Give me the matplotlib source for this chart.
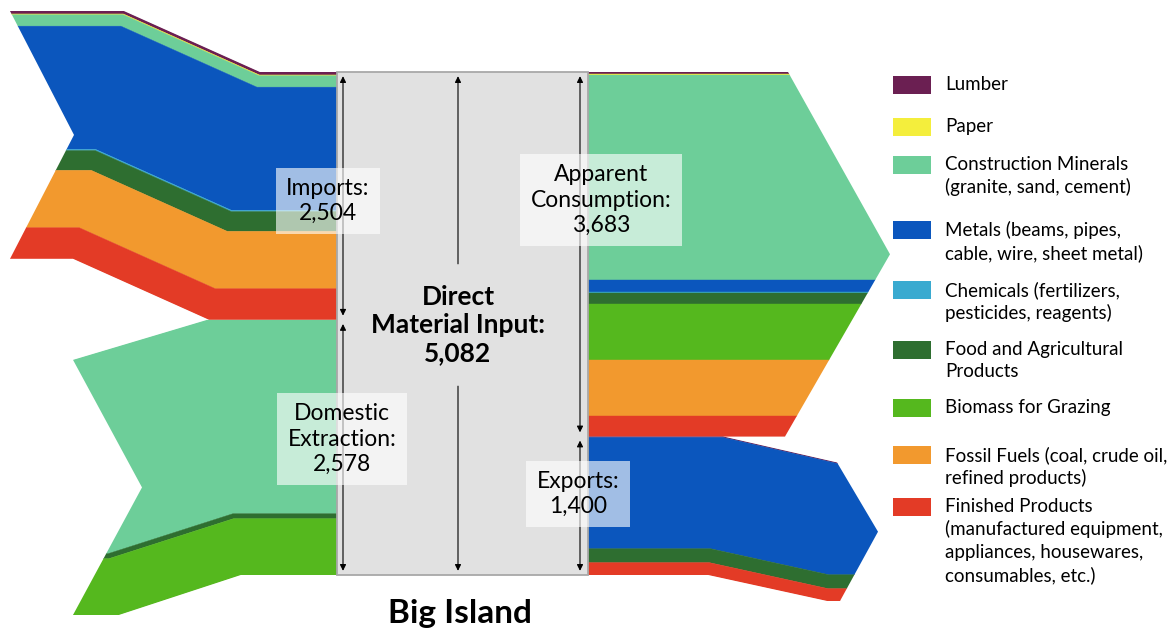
import numpy as np
import matplotlib
matplotlib.use("Agg")
import matplotlib.pyplot as plt
from matplotlib.patches import Polygon, Rectangle

plt.rcParams["font.family"] = ["Lato", "DejaVu Sans"]

# ---- data (thousand tons), layers listed top -> bottom ----
categories = ["Lumber", "Paper", "Construction Minerals", "Metals", "Chemicals",
              "Food and Agricultural Products", "Biomass for Grazing", "Fossil Fuels",
              "Finished Products"]
legend_labels = ["Lumber", "Paper",
                 "Construction Minerals\n(granite, sand, cement)",
                 "Metals (beams, pipes,\ncable, wire, sheet metal)",
                 "Chemicals (fertilizers,\npesticides, reagents)",
                 "Food and Agricultural\nProducts",
                 "Biomass for Grazing",
                 "Fossil Fuels (coal, crude oil,\nrefined products)",
                 "Finished Products\n(manufactured equipment,\nappliances, housewares,\nconsumables, etc.)"]
colors = ["#6b1f52", "#f4ee3c", "#6dce99", "#0b56bd", "#3aaad0",
          "#2e6e30", "#55b81e", "#f2992e", "#e33b26"]

imports     = [30, 8, 115, 1245, 12, 200, 0, 580, 314]
domestic    = [0, 0, 1959, 0, 0, 50, 569, 0, 0]
consumption = [20, 8, 2075, 118, 12, 115, 560, 570, 205]
exports     = [10, 0, 0, 1125, 0, 140, 0, 0, 125]

dmi = sum(imports) + sum(domestic)

# ---- layout (pixel grid of the 1172x634 canvas) ----
W, H = 1172, 634
BOX_L, BOX_R, BOX_T, BOX_B = 337, 588, 72, 575
K = dmi / (BOX_B - BOX_T)          # units per pixel


def Y(px):
    return (BOX_B - px) * K


fig = plt.figure(figsize=(W / 100, H / 100), dpi=100)
ax = fig.add_axes([0, 0, 1, 1])
ax.set_xlim(0, W)
ax.set_ylim(Y(H), Y(0))
ax.axis("off")


def ribbon(values, y_top, side, shift_px, bend_top, bend_bot, cap):
    """Stacked stream leaving/entering the box, with a bend and an end cap."""
    vals = np.asarray(values, float)
    bnd = y_top - np.concatenate([[0], np.cumsum(vals)])
    total = vals.sum()
    shift = shift_px * K
    x_near = BOX_L if side == "left" else BOX_R
    x_ext = 0 if side == "left" else W

    def line(y, x_far):
        f = (y_top - y) / total
        xa = bend_top[0] + (bend_bot[0] - bend_top[0]) * f
        xb = bend_top[1] + (bend_bot[1] - bend_top[1]) * f
        if side == "left":
            return [(x_far, y + shift), (xa, y + shift), (xb, y), (x_near, y)]
        return [(x_near, y), (xa, y), (xb, y + shift), (x_far, y + shift)]

    mid = (bnd[0] + bnd[-1]) / 2 + shift
    top, bot = line(bnd[0], cap[0]), line(bnd[-1], cap[2])
    if side == "left":
        outline = top + bot[::-1] + [(cap[1], mid)]
    else:
        outline = top + [(cap[1], mid)] + bot[::-1]
    clip = Polygon(outline, closed=True, fc="none", ec="none")
    ax.add_patch(clip)
    for i, c in enumerate(colors):
        if vals[i] <= 0:
            continue
        up, lo = line(bnd[i], x_ext), line(bnd[i + 1], x_ext)
        p = Polygon(up + lo[::-1], closed=True, fc=c, ec=c, lw=0.3, zorder=1)
        ax.add_patch(p)
        p.set_clip_path(clip)


ribbon(imports, dmi, "left", 61, (124, 260), (73, 209), (10, 74, 10))
ribbon(domestic, sum(domestic), "left", -40, (73, 207), (119, 241), (73, 142, 73))
ribbon(consumption, dmi, "right", 0, (700, 780), (700, 780), (788, 890, 785))
ribbon(exports, sum(exports), "right", -26, (723, 837), (708, 827), (837, 878, 840))

# central box
ax.add_patch(Rectangle((BOX_L, 0), BOX_R - BOX_L, dmi, fc="#e1e1e1", ec="#a8a8a8",
                       lw=1.3, zorder=2))


def darrow(x, y0, y1, style="<|-|>"):
    ax.annotate("", xy=(x, y1), xytext=(x, y0), zorder=3,
                arrowprops=dict(arrowstyle=style, color="black", lw=0.8,
                                mutation_scale=9, shrinkA=3, shrinkB=3))


darrow(343, dmi - sum(imports), dmi)
darrow(343, 0, sum(domestic))
darrow(580, dmi - sum(consumption), dmi)
darrow(580, 0, sum(exports))
darrow(458, Y(268), dmi, "-|>")
darrow(458, Y(382), 0, "-|>")

ax.text(458, Y(325), f"Direct\nMaterial Input:\n{dmi:,}", ha="center", va="center",
        fontsize=19, fontweight="bold", linespacing=1.2, zorder=4)

lbl = dict(ha="center", va="center", fontsize=16.5, linespacing=1.25, zorder=4,
           bbox=dict(boxstyle="square,pad=0.45", fc="white", ec="none", alpha=0.62))
ax.text(328, Y(201), f"Imports:\n{sum(imports):,}", **lbl)
ax.text(601, Y(200), f"Apparent\nConsumption:\n{sum(consumption):,}", **lbl)
ax.text(342, Y(439), f"Domestic\nExtraction:\n{sum(domestic):,}", **lbl)
ax.text(578, Y(494), f"Exports:\n{sum(exports):,}", **lbl)

ax.text(460, Y(614), "Big Island", ha="center", va="center", fontsize=24,
        fontweight="bold")

# legend
legend_y = [85, 127, 165, 230, 290, 350, 408, 455, 507]
for ypx, c, t in zip(legend_y, colors, legend_labels):
    ax.add_patch(Rectangle((893, Y(ypx + 9)), 38, 18 * K, fc=c, ec="none"))
    ax.text(945, Y(ypx - 9), t, ha="left", va="top", fontsize=13.5,
            linespacing=1.36)

fig.savefig("out.png", dpi=100)
